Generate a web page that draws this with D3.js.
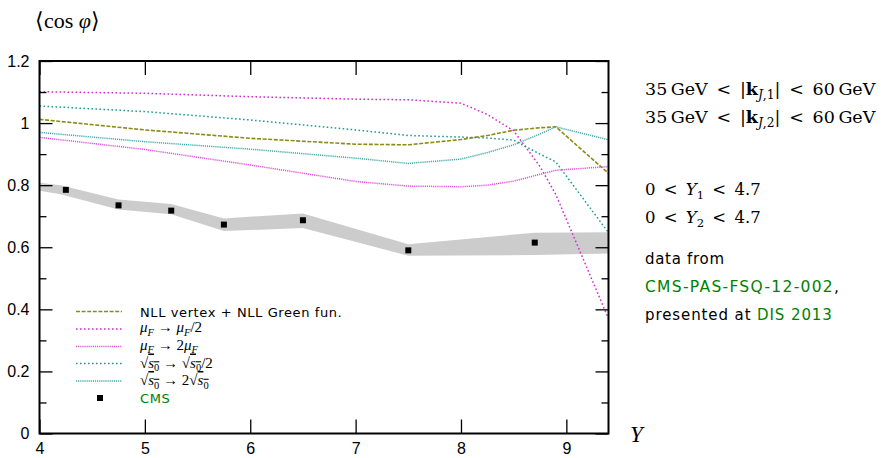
<!DOCTYPE html>
<html>
<head>
<meta charset="utf-8">
<script src="https://cdn.jsdelivr.net/npm/d3@7"></script>
<style>
  body { margin: 0; background: #fff; }
  .tick text { font-family: "Liberation Sans", Arial, sans-serif; font-size: 16px; fill: #000; }
  .math { font-family: "Liberation Serif", "Times New Roman", serif; }
  .math2 { font-family: "DejaVu Serif", serif; }
  .sans { font-family: "DejaVu Sans", sans-serif; }
</style>
</head>
<body>
<div id="chart"></div>
<script>
// rapidity nodes of the theory curves
var theoryY = [4, 5, 6, 7, 7.5, 8, 8.25, 8.5, 8.75, 8.9, 9.4];
var nllCentral = [1.012, 0.978, 0.951, 0.932, 0.930, 0.947, 0.960, 0.977, 0.985, 0.988, 0.838];
var muHalf     = [1.101, 1.096, 1.085, 1.077, 1.075, 1.064, 1.028, 0.975, 0.860, 0.770, 0.370];
var muDouble   = [0.954, 0.915, 0.865, 0.812, 0.797, 0.795, 0.800, 0.813, 0.835, 0.848, 0.860];
var s0Half     = [1.055, 1.037, 1.010, 0.978, 0.960, 0.955, 0.952, 0.945, 0.900, 0.875, 0.647];
var s0Double   = [0.970, 0.940, 0.916, 0.887, 0.870, 0.884, 0.905, 0.930, 0.965, 0.988, 0.946];

// grey uncertainty band
var bandY     = [4.0, 4.2, 4.75, 5.25, 5.75, 6.5, 7.5, 8.7, 9.4];
var bandUpper = [0.808, 0.800, 0.754, 0.739, 0.693, 0.709, 0.610, 0.647, 0.648];
var bandLower = [0.782, 0.771, 0.722, 0.706, 0.652, 0.662, 0.573, 0.575, 0.580];

// CMS data points
var cmsY   = [4.25, 4.75, 5.25, 5.75, 6.5, 7.5, 8.7];
var cmsVal = [0.785, 0.735, 0.718, 0.673, 0.687, 0.590, 0.615];

var xTicks = [4, 5, 6, 7, 8, 9];
var yTicks = [0, 0.2, 0.4, 0.6, 0.8, 1, 1.2];
var yMinor = [0.1, 0.3, 0.5, 0.7, 0.9, 1.1];

var svgWidth = 888, svgHeight = 458;
var svg = d3.select("#chart").append("svg")
    .attr("width", svgWidth)
    .attr("height", svgHeight);

var x = d3.scaleLinear().domain([4, 9.4]).range([39.5, 608.5]);
var y = d3.scaleLinear().domain([0, 1.2]).range([433.5, 61]);

// band
var bandData = bandY.map(function(v, i) { return {x: v, lo: bandLower[i], hi: bandUpper[i]}; });
svg.append("path")
    .datum(bandData)
    .attr("fill", "#cccccc")
    .attr("d", d3.area().x(d => x(d.x)).y0(d => y(d.lo)).y1(d => y(d.hi)));

// theory curves
var series = [
    {vals: nllCentral, color: "#8c8c14", dash: "4,1.6", w: 1.6},
    {vals: muHalf,     color: "#d02ed0", dash: "1.6,2.4", w: 1.5},
    {vals: muDouble,   color: "#dd55dd", dash: "1.2,0.9", w: 1.5},
    {vals: s0Half,     color: "#229999", dash: "1.6,2.4", w: 1.5},
    {vals: s0Double,   color: "#44aaaa", dash: "1.2,0.9", w: 1.5}
];
var line = d3.line().x(d => x(d[0])).y(d => y(d[1]));
svg.append("clipPath").attr("id", "clip").append("rect")
    .attr("x", x(4)).attr("y", y(1.2)).attr("width", x(9.4) - x(4)).attr("height", y(0) - y(1.2));
series.forEach(function(s) {
    svg.append("path")
        .datum(theoryY.map((v, i) => [v, s.vals[i]]))
        .attr("clip-path", "url(#clip)")
        .attr("fill", "none")
        .attr("stroke", s.color)
        .attr("stroke-width", s.w)
        .attr("stroke-dasharray", s.dash)
        .attr("d", line);
});

// CMS points
svg.selectAll("rect.cms")
    .data(cmsY)
    .enter()
    .append("rect")
    .attr("class", "cms")
    .attr("x", (d) => x(d) - 3)
    .attr("y", (d, i) => y(cmsVal[i]) - 3)
    .attr("width", 6)
    .attr("height", 6)
    .attr("fill", "#000");

// axes
function styleAxis(g) {
    g.select(".domain").remove();
    g.selectAll(".tick line").attr("stroke", "#000").attr("stroke-width", 1.3);
}
svg.append("g").attr("transform", "translate(" + x(4) + ",0)")
    .call(d3.axisLeft(y).tickValues(yTicks).tickSizeInner(-13).tickPadding(10)
        .tickFormat(d => d === 0 || d === 1 ? d3.format("d")(d) : d3.format(".1f")(d)))
    .call(styleAxis);
svg.append("g").attr("transform", "translate(" + x(4) + ",0)")
    .call(d3.axisLeft(y).tickValues(yMinor).tickSizeInner(-7).tickFormat(""))
    .call(styleAxis);
svg.append("g").attr("transform", "translate(" + x(9.4) + ",0)")
    .call(d3.axisRight(y).tickValues(yTicks).tickSizeInner(-13).tickFormat(""))
    .call(styleAxis);
svg.append("g").attr("transform", "translate(" + x(9.4) + ",0)")
    .call(d3.axisRight(y).tickValues(yMinor).tickSizeInner(-7).tickFormat(""))
    .call(styleAxis);
svg.append("g").attr("transform", "translate(0," + y(0) + ")")
    .call(d3.axisBottom(x).tickValues(xTicks).tickSizeInner(-14).tickPadding(9).tickFormat(d3.format("d")))
    .call(styleAxis);
svg.append("g").attr("transform", "translate(0," + y(1.2) + ")")
    .call(d3.axisTop(x).tickValues(xTicks).tickSizeInner(-14).tickFormat(""))
    .call(styleAxis);

svg.append("rect")
    .attr("x", x(4)).attr("y", y(1.2))
    .attr("width", x(9.4) - x(4)).attr("height", y(0) - y(1.2))
    .attr("fill", "none").attr("stroke", "#000").attr("stroke-width", 2);

// rich text helper: segments {t, it, b, sub, ov, fill}
function richText(g, px, py, segs, cls, size) {
    var t = g.append("text").attr("x", px).attr("y", py).attr("class", cls).attr("font-size", size);
    var inSub = false;
    segs.forEach(function(s) {
        var sp = t.append("tspan").text(s.t);
        if (s.it) sp.attr("font-style", "italic");
        if (s.b) sp.attr("font-weight", "bold");
        if (s.fill) sp.attr("fill", s.fill);
        if (s.ov) sp.attr("text-decoration", "overline");
        if (s.sub && !inSub) { sp.attr("dy", size * 0.25).attr("font-size", size * 0.7); inSub = true; }
        else if (s.sub) { sp.attr("font-size", size * 0.7); }
        else if (!s.sub && inSub) { sp.attr("dy", -size * 0.25); inSub = false; }
    });
    return t;
}

// axis titles
richText(svg, 35, 28, [{t: "\u27E8cos "}, {t: "\u03C6", it: true}, {t: "\u27E9"}], "math", 22);
richText(svg, 630, 442, [{t: "Y", it: true}], "math", 23);

// legend
var legendRows = [311.5, 329, 346.5, 363.5, 381, 398];
series.forEach(function(s, i) {
    svg.append("line")
        .attr("x1", 76).attr("x2", 122)
        .attr("y1", legendRows[i]).attr("y2", legendRows[i])
        .attr("stroke", s.color).attr("stroke-width", s.w).attr("stroke-dasharray", s.dash);
});
svg.append("rect").attr("x", 97).attr("y", legendRows[5] - 3).attr("width", 6).attr("height", 6).attr("fill", "#000");

var lg = svg.append("g");
richText(lg, 140, legendRows[0] + 5, [{t: "NLL vertex + NLL Green fun."}], "sans", 13).attr("letter-spacing", 0.6);
richText(lg, 140, legendRows[1] + 3, [{t: "\u03BC", it: true}, {t: "F", it: true, sub: true}, {t: " \u2192 "}, {t: "\u03BC", it: true}, {t: "F", it: true, sub: true}, {t: "/2"}], "math", 15);
richText(lg, 140, legendRows[2] + 3, [{t: "\u03BC", it: true}, {t: "F", it: true, sub: true}, {t: " \u2192 2"}, {t: "\u03BC", it: true}, {t: "F", it: true, sub: true}], "math", 15);
richText(lg, 140, legendRows[3] + 4, [{t: "\u221A"}, {t: "s", it: true, ov: true}, {t: "0", sub: true, ov: true}, {t: " \u2192 \u221A"}, {t: "s", it: true, ov: true}, {t: "0", sub: true, ov: true}, {t: "/2"}], "math", 15);
richText(lg, 140, legendRows[4] + 4, [{t: "\u221A"}, {t: "s", it: true, ov: true}, {t: "0", sub: true, ov: true}, {t: " \u2192 2\u221A"}, {t: "s", it: true, ov: true}, {t: "0", sub: true, ov: true}], "math", 15);
richText(lg, 140, legendRows[5] + 5, [{t: "CMS", fill: "#008000"}], "sans", 13).attr("letter-spacing", 0.6);

// right-hand annotations
var ann = svg.append("g");
var lt = "\u2002<\u2002";
richText(ann, 645, 95, [{t: "35\u2009GeV" + lt + "|"}, {t: "k", b: true}, {t: "J", it: true, sub: true}, {t: ",1", sub: true}, {t: "|" + lt + "60\u2009GeV"}], "math2", 17.5);
richText(ann, 645, 123, [{t: "35\u2009GeV" + lt + "|"}, {t: "k", b: true}, {t: "J", it: true, sub: true}, {t: ",2", sub: true}, {t: "|" + lt + "60\u2009GeV"}], "math2", 17.5);
richText(ann, 645, 195, [{t: "0" + lt}, {t: "Y", it: true}, {t: "1", sub: true}, {t: lt + "4.7"}], "math2", 16.5);
richText(ann, 645, 223, [{t: "0" + lt}, {t: "Y", it: true}, {t: "2", sub: true}, {t: lt + "4.7"}], "math2", 16.5);
richText(ann, 645, 264, [{t: "data from"}], "sans", 15).attr("letter-spacing", 0.7);
richText(ann, 645, 292, [{t: "CMS-PAS-FSQ-12-002", fill: "#008000"}, {t: ","}], "sans", 15.5).attr("letter-spacing", 1.3);
richText(ann, 645, 320, [{t: "presented at "}, {t: "DIS 2013", fill: "#008000"}], "sans", 15).attr("letter-spacing", 0.9);
</script>
</body>
</html>
